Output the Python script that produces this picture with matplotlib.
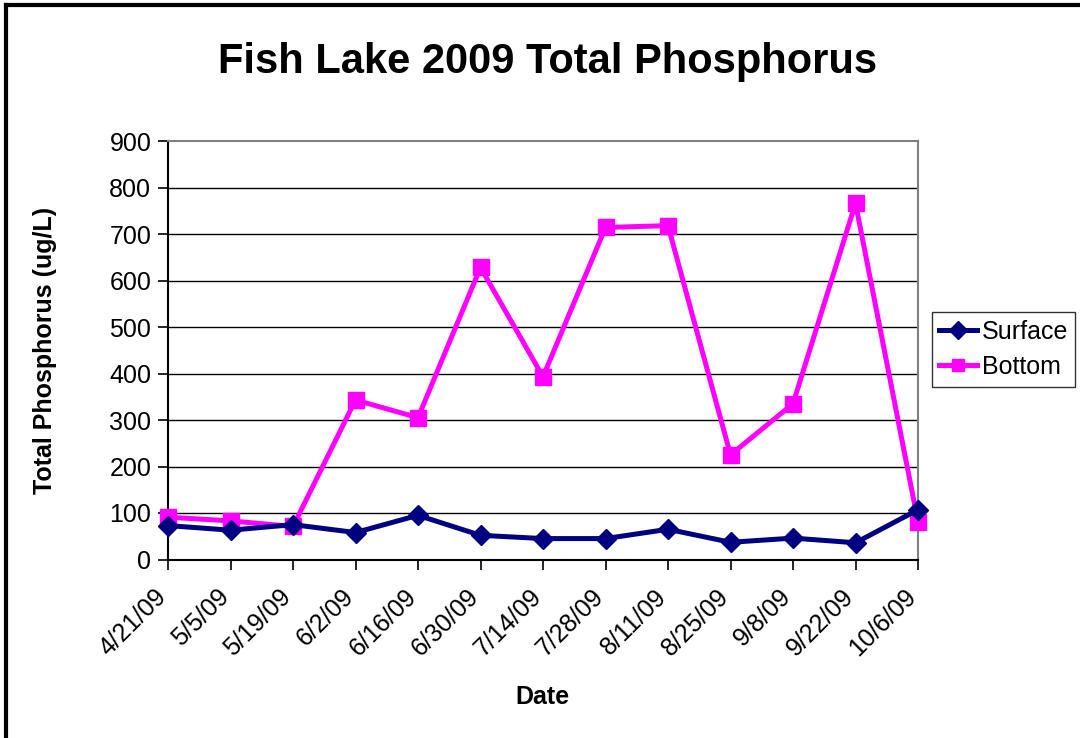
import matplotlib
matplotlib.use("Agg")
import matplotlib.pyplot as plt
from matplotlib.lines import Line2D
from matplotlib.transforms import ScaledTranslation

plt.rcParams['font.family'] = ['Liberation Sans', 'DejaVu Sans']

dates = ["4/21/09", "5/5/09", "5/19/09", "6/2/09", "6/16/09", "6/30/09", "7/14/09",
         "7/28/09", "8/11/09", "8/25/09", "9/8/09", "9/22/09", "10/6/09"]
surface = [73, 63, 75, 58, 95, 52, 45, 45, 65, 37, 46, 36, 107]
bottom = [91, 83, 71, 343, 305, 628, 393, 714, 718, 225, 335, 766, 81]
yticks = [0, 100, 200, 300, 400, 500, 600, 700, 800, 900]

fig = plt.figure(figsize=(10.8, 7.38), dpi=100)
ax = fig.add_axes([168/1080, 1 - 559.5/738, 750/1080, 418.5/738])

x = list(range(len(dates)))
ax.plot(x, surface, color='#000080', lw=3.6, marker='D', ms=10, mec='#000080',
        mfc='#000080', label='Surface', clip_on=False, zorder=4)
ax.plot(x, bottom, color='#FF00FF', lw=3.6, marker='s', ms=12, mec='#FF00FF',
        mfc='#FF00FF', label='Bottom', clip_on=False, zorder=3)

ax.set_xlim(0, len(dates) - 1)
ax.set_ylim(0, 900)
ax.set_yticks(yticks)
ax.set_yticklabels([str(v) for v in yticks], fontsize=18)
ax.set_xticks(x)
ax.set_xticklabels(dates, rotation=45, ha='right', rotation_mode='anchor', fontsize=18)
ax.tick_params(axis='both', direction='out', length=7, width=1.2, color='black', pad=5)
ax.tick_params(axis='x', pad=8)
offset = ScaledTranslation(-14/100, -4/100, fig.dpi_scale_trans)
for lab in ax.get_xticklabels():
    lab.set_transform(lab.get_transform() + offset)

for v in yticks[1:-1]:
    ax.axhline(v, color='black', lw=1.0, zorder=1)
for s in ['top', 'right']:
    ax.spines[s].set_color('#808080')
    ax.spines[s].set_linewidth(1.5)
for s in ['left', 'bottom']:
    ax.spines[s].set_color('black')
    ax.spines[s].set_linewidth(1.5)

ax.set_ylabel('Total Phosphorus (ug/L)', fontsize=18, fontweight='bold')
ax.yaxis.set_label_coords(-0.164, 0.5006)
ax.set_xlabel('Date', fontsize=18, fontweight='bold')
ax.xaxis.set_label_coords(0.4987, -0.3286)
ax.xaxis.label.set_va('center')
ax.yaxis.label.set_va('center')
fig.text(548/1080, 1 - 62/738, 'Fish Lake 2009 Total Phosphorus', fontsize=30,
         fontweight='bold', ha='center', va='center')

leg = fig.legend(loc='center', bbox_to_anchor=(1003.5/1080, 1 - 349.5/738), fontsize=18,
                 frameon=True, fancybox=False, edgecolor='black', handlelength=1.5,
                 handletextpad=0.2, borderpad=0.3, labelspacing=0.45, borderaxespad=0)
leg.get_frame().set_linewidth(1.0)
for h in leg.legend_handles:
    h.set_markersize(9)

# outer chart border
fig.add_artist(Line2D([6/1080, 1.0], [1 - 5/738, 1 - 5/738], color='black', lw=3,
                      transform=fig.transFigure))
fig.add_artist(Line2D([6/1080, 6/1080], [0, 1 - 5/738], color='black', lw=3,
                      transform=fig.transFigure))

fig.savefig('out.png', dpi=100)
